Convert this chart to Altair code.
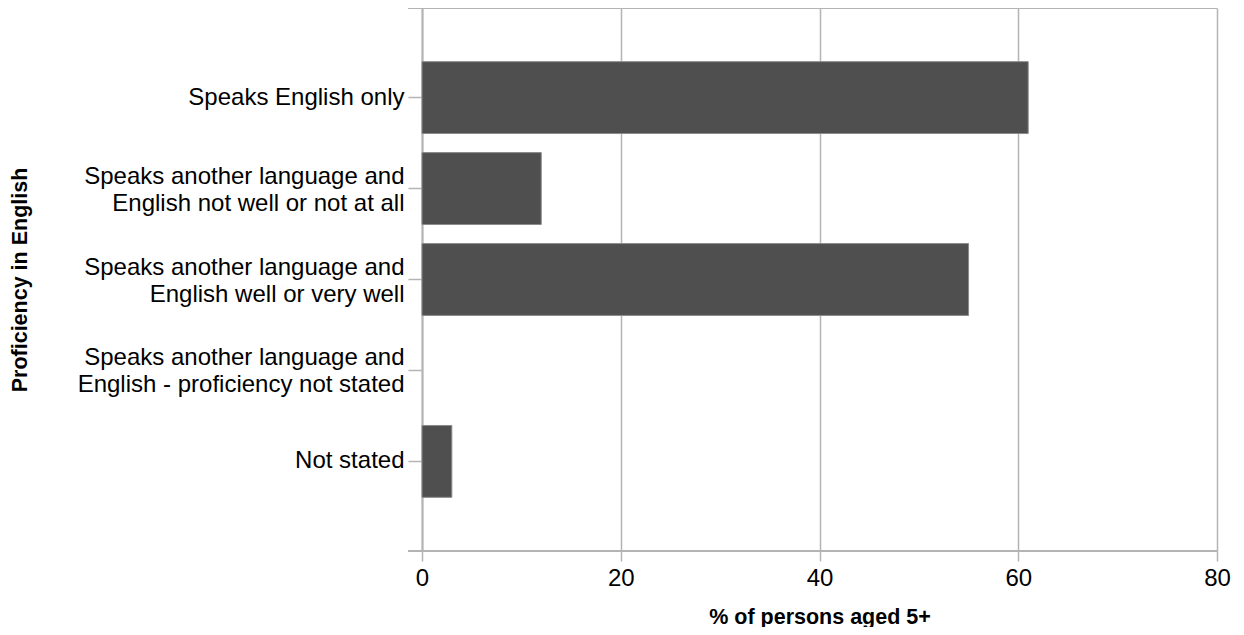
import altair as alt
import pandas as pd

categories = [
    "Speaks English only",
    "Speaks another language and\nEnglish not well or not at all",
    "Speaks another language and\nEnglish well or very well",
    "Speaks another language and\nEnglish - proficiency not stated",
    "Not stated",
]
values = [61, 12, 55, 0, 3]
x_ticks = [0, 20, 40, 60, 80]

df = pd.DataFrame({"cat": categories, "pct": values})

W, H = 795, 543
GRID = "#b4b4b4"
FONT = "Liberation Sans"

bars = alt.Chart(df).mark_bar(color="#4f4f4f", stroke="#8a8a8a").encode(
    x=alt.X(
        "pct:Q",
        scale=alt.Scale(domain=[0, 80], nice=False, zero=True),
        axis=alt.Axis(
            values=x_ticks,
            title="% of persons aged 5+",
            grid=True,
            gridColor=GRID,
            gridWidth=1.5,
            domain=False,
            tickColor=GRID,
            tickWidth=1.5,
            tickSize=10,
            labelFlush=False,
            labelFont=FONT,
            labelFontSize=24,
            labelColor="#000000",
            labelPadding=5,
            titleFont=FONT,
            titleFontSize=21.5,
            titleFontWeight="bold",
            titleColor="#000000",
            titleBaseline="middle",
            titleY=66,
        ),
    ),
    y=alt.Y(
        "cat:N",
        sort=categories,
        scale=alt.Scale(domain=categories, paddingInner=0.21, paddingOuter=0.59),
        axis=alt.Axis(
            title="Proficiency in English",
            labelExpr="split(datum.label, '\\n')",
            labelLineHeight=27,
            labelOffset={
                "condition": {"test": "indexof(datum.value, '\\n') >= 0", "value": -12},
                "value": 0,
            },
            labelFont=FONT,
            labelFontSize=24,
            labelColor="#000000",
            labelPadding=4,
            labelLimit=400,
            tickColor=GRID,
            tickWidth=1.5,
            tickSize=14,
            domainColor=GRID,
            domainWidth=2,
            titleFont=FONT,
            titleFontSize=21.5,
            titleFontWeight="bold",
            titleColor="#000000",
            titleBaseline="middle",
            titleX=-402,
        ),
    ),
    strokeWidth=alt.condition("datum.pct > 0", alt.value(1), alt.value(0)),
)

top_rule = alt.Chart(df).mark_rule(color=GRID, strokeWidth=2).encode(
    x=alt.value(-14), x2=alt.value(W), y=alt.value(0)
)
bottom_rule = alt.Chart(df).mark_rule(color=GRID, strokeWidth=2).encode(
    x=alt.value(-14), x2=alt.value(W), y=alt.value(H)
)

chart = (
    alt.layer(bars, top_rule, bottom_rule)
    .properties(
        width=W,
        height=H,
        autosize=alt.AutoSizeParams(type="none"),
        padding={"left": 414, "top": 0, "right": 19, "bottom": 76},
    )
    .configure_view(fill="#e0e0e0", strokeWidth=0)
    .configure(background="#ffffff")
)

chart.save("out.html", embed_options={"renderer": "svg", "actions": False})
